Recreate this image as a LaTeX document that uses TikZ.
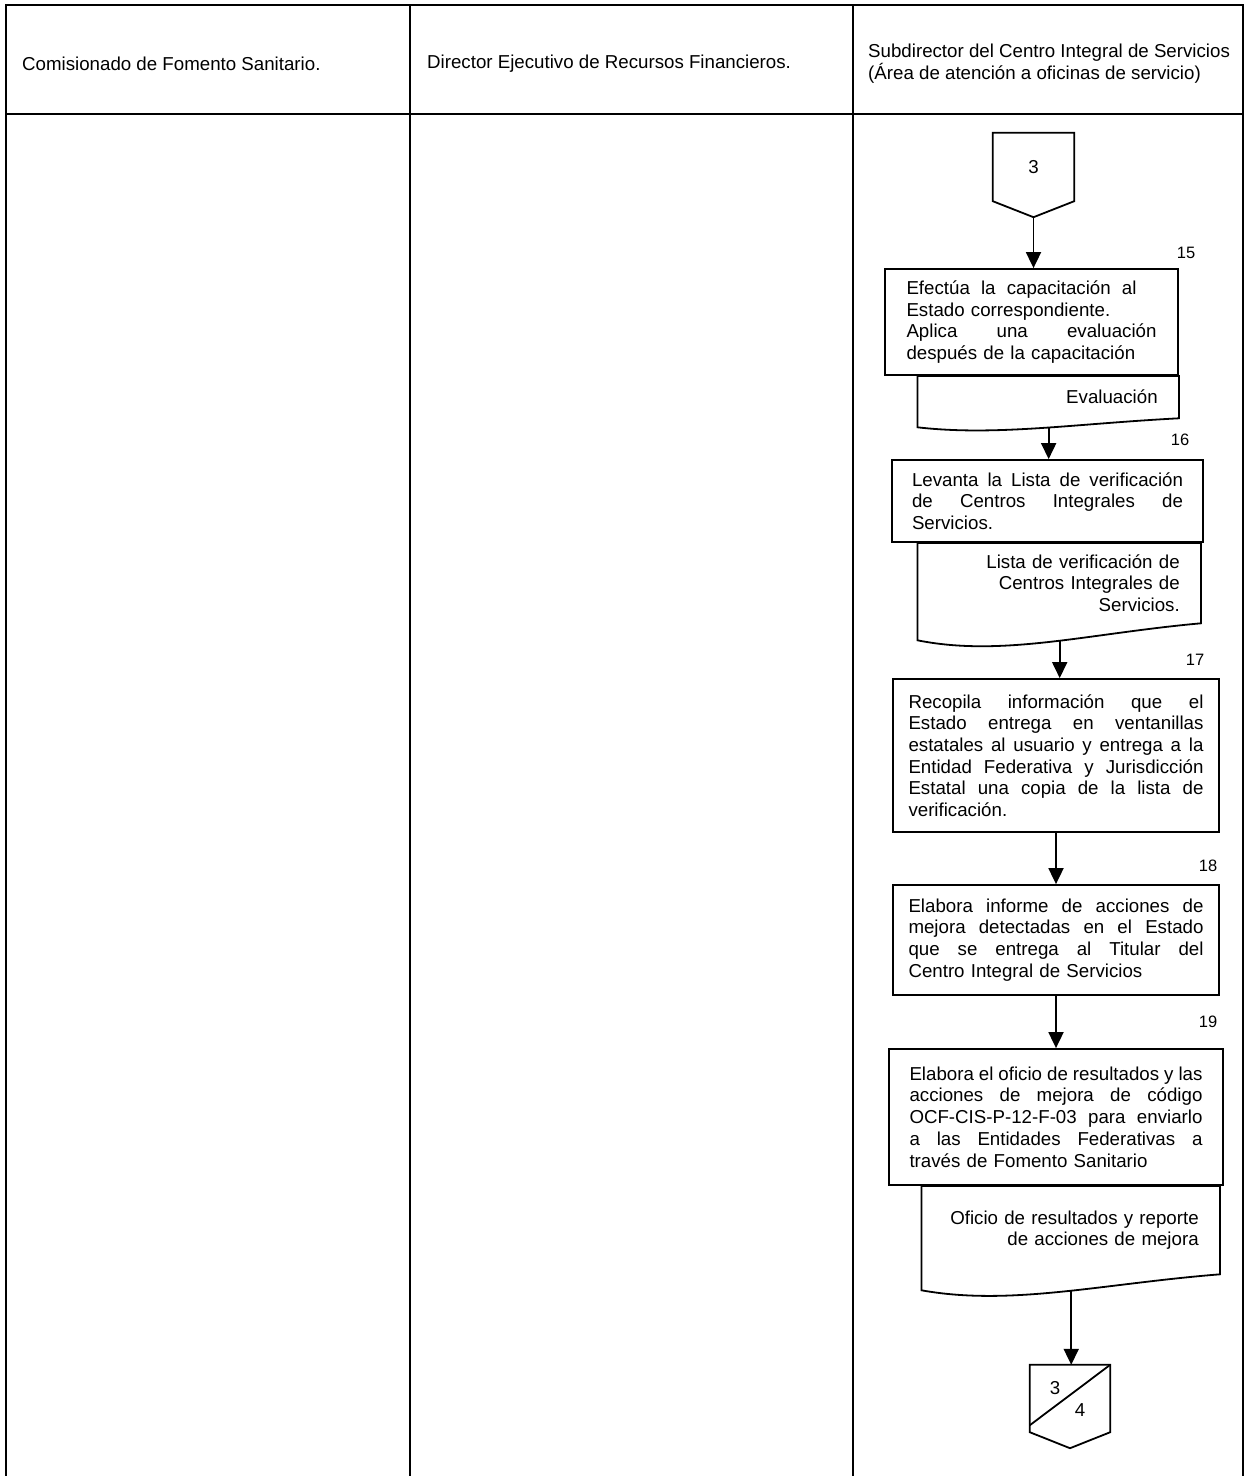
\documentclass[tikz,border=0pt]{standalone}
\usepackage{fontspec}
\setmainfont{Liberation Sans}
\usepackage{xcolor}
\usepackage{tikz}
\usetikzlibrary{arrows.meta, calc}
\newcommand{\flowfont}{\fontsize{18.7}{21.7}\selectfont}
\newcommand{\numfont}{\fontsize{16.5}{18}\selectfont}
% one justified line of a box text
\newcommand{\fullline}[2][\hsize]{\makebox[#1][s]{\spaceskip=0pt\relax\xspaceskip=0pt\relax #2}}
% document symbol drawn round a node, #2 = depth of the wave
\newcommand{\docshape}[2]{%
  \draw[shapeline] (#1.north west) -- (#1.north east) -- (#1.south east)
    .. controls ($(#1.south west)!0.6!(#1.south east)+(0,0.6*#2)$) and ($(#1.south west)!0.3!(#1.south east)+(0,2*#2)$) .. ($(#1.south west)+(0,#2)$)
    coordinate[pos=0.46] (#1wave) -- cycle;}
% off-page connector drawn round a node
\newcommand{\offpageshape}[1]{%
  \draw[shapeline] (#1.north west) -- (#1.north east) -- (#1.south east) -- ($(#1.south)+(0,16)$) -- (#1.south west) -- cycle;
  \coordinate (#1tip) at ($(#1.south)+(0,16)$);}
\tikzstyle{activity} = [rectangle, draw=black, line width=1.8pt, inner sep=0pt, align=left, font=\flowfont]
\tikzstyle{docbox} = [rectangle, inner xsep=21pt, inner ysep=0pt, align=right, font=\flowfont]
\tikzstyle{offpage} = [rectangle, inner sep=0pt, font=\flowfont]
\tikzstyle{lanetitle} = [inner sep=0pt, anchor=west, align=left, font=\flowfont]
\tikzstyle{stepnum} = [inner sep=0pt, font=\numfont]
\tikzstyle{shapeline} = [line width=1.8pt, line join=miter]
\tikzstyle{laneline} = [line width=2pt]
\tikzstyle{arrow} = [line width=1.8pt, -{Triangle[length=16pt, width=15pt]}]

\begin{document}
\begin{tikzpicture}[x=1pt, y=-1pt]
    \useasboundingbox (0,0) rectangle (1246,1476);

    % lanes
    \draw [laneline] (6,1476) -- (6,5) -- (1243,5) -- (1243,1476);
    \draw [laneline] (6,114) -- (1243,114);
    \draw [laneline] (410,5) -- (410,1476);
    \draw [laneline] (853,5) -- (853,1476);
    \node (lane1) [lanetitle] at (22,64) {Comisionado de Fomento Sanitario.};
    \node (lane2) [lanetitle] at (427,64) {Director Ejecutivo de Recursos Financieros.};
    \node (lane3) [lanetitle] at (868,64) {Subdirector del Centro Integral de Servicios\\(Área de atención a oficinas de servicio)};

    % flow
    \node (con3) [offpage, minimum width=81pt, minimum height=68pt] at (1033.5,167) {3};
    \offpageshape{con3}

    \node (act15) [activity, minimum width=293pt, minimum height=106pt, text width=250pt] at (1031.5,322)
        {\fullline[230pt]{Efectúa la capacitación al}\\ Estado correspondiente.\\ \fullline{Aplica una evaluación}\\ después de la capacitación};
    \node (doc15) [docbox, minimum width=261pt, minimum height=42pt, text width=219pt, anchor=north east] at (act15.south east) {Evaluación};
    \docshape{doc15}{9}

    \node (act16) [activity, minimum width=311pt, minimum height=82pt, text width=271pt] at (1047.5,501)
        {\fullline{Levanta la Lista de verificación}\\ \fullline{de Centros Integrales de}\\ Servicios.};
    \begin{scope}
        % the last line is cut off by the symbol
        \clip (900,543) rectangle (1210,611);
        \node (doc16) [docbox, minimum width=283pt, minimum height=80pt, text width=241pt, anchor=north east] at ($(act16.south east)+(-3,0)$)
            {Lista de verificación de\\ Centros Integrales de\\ Servicios.};
    \end{scope}
    \docshape{doc16}{17}

    \node (act17) [activity, minimum width=326pt, minimum height=153pt, text width=295pt] at (1056,755.5)
        {\fullline{Recopila información que el}\\ \fullline{Estado entrega en ventanillas}\\ \fullline{estatales al usuario y entrega a la}\\
         \fullline{Entidad Federativa y Jurisdicción}\\ \fullline{Estatal una copia de la lista de}\\ verificación.};

    \node (act18) [activity, minimum width=326pt, minimum height=110pt, text width=295pt] at (1056,940)
        {\fullline{Elabora informe de acciones de}\\ \fullline{mejora detectadas en el Estado}\\ \fullline{que se entrega al Titular del}\\ Centro Integral de Servicios};

    \node (act19) [activity, minimum width=334pt, minimum height=136pt, text width=293pt] at (1056,1117)
        {\fullline{Elabora el oficio de resultados y las}\\ \fullline{acciones de mejora de código}\\ \fullline{OCF-CIS-P-12-F-03 para enviarlo}\\
         \fullline{a las Entidades Federativas a}\\ través de Fomento Sanitario};
    \node (doc19) [docbox, minimum width=298pt, minimum height=88pt, text width=256pt, anchor=north east] at ($(act19.south east)+(-4,0)$)
        {Oficio de resultados y reporte\\ de acciones de mejora};
    \docshape{doc19}{16}

    \node (con34) [offpage, minimum width=80pt, minimum height=67pt] at (1070,1398.5) {};
    \offpageshape{con34}
    \draw [shapeline] ($(con34.south west)+(0,-7)$) -- (con34.north east);
    \node (con34top) [offpage] at ($(con34.center)+(-15,-10.5)$) {3};
    \node (con34bot) [offpage] at ($(con34.center)+(10,11.5)$) {4};

    % step numbers
    \node (num15) [stepnum] at (1186,253) {15};
    \node (num16) [stepnum] at (1180,440) {16};
    \node (num17) [stepnum] at (1195,660) {17};
    \node (num18) [stepnum] at (1208,866) {18};
    \node (num19) [stepnum] at (1208,1022) {19};

    % connectors
    \draw [arrow] (con3tip) -- (con3tip |- act15.north);
    \draw [arrow] (doc15wave) -- (doc15wave |- act16.north);
    \draw [arrow] (doc16wave) -- (doc16wave |- act17.north);
    \draw [arrow] (act17) -- (act18);
    \draw [arrow] (act18) -- (act19);
    \draw [arrow] (doc19wave) -- (doc19wave |- con34.north);
\end{tikzpicture}
\end{document}
